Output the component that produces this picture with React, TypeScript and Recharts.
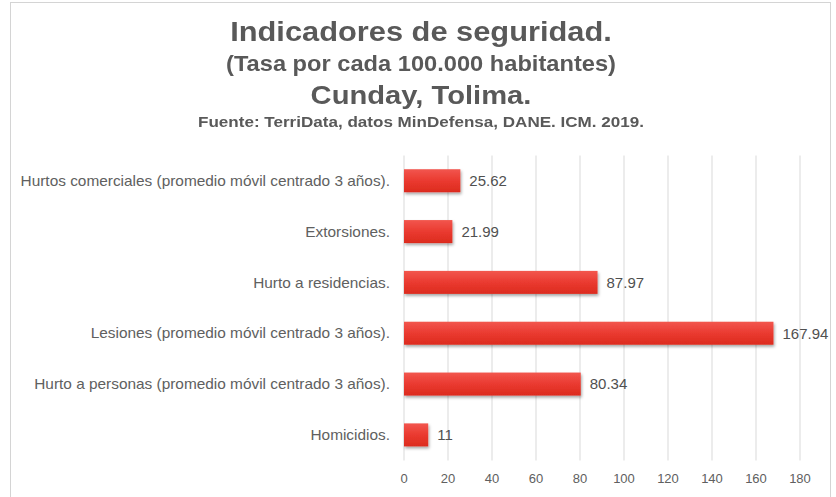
import React from "react";
import { BarChart, Bar, XAxis, YAxis, CartesianGrid, LabelList } from "recharts";

const categories = [
  "Hurtos comerciales (promedio móvil centrado 3 años).",
  "Extorsiones.",
  "Hurto a residencias.",
  "Lesiones (promedio móvil centrado 3 años).",
  "Hurto a personas (promedio móvil centrado 3 años).",
  "Homicidios.",
];
const values = [25.62, 21.99, 87.97, 167.94, 80.34, 11];
const xTicks = [0, 20, 40, 60, 80, 100, 120, 140, 160, 180];

const titleLines = [
  { text: "Indicadores de seguridad.", size: 28, baseline: 41.5 },
  { text: "(Tasa por cada 100.000 habitantes)", size: 21.5, baseline: 72.5 },
  { text: "Cunday, Tolima.", size: 26.5, baseline: 104.5 },
  { text: "Fuente: TerriData, datos MinDefensa, DANE. ICM. 2019.", size: 15.5, baseline: 127.5 },
];

const data = categories.map((c, i) => ({ name: c, value: values[i] }));

const FONT = "'Liberation Sans', Arial, sans-serif";

const YTick = (props: any) => {
  const { x, y, payload } = props;
  return (
    <g transform={`translate(${x},${y}) scale(1.1,1)`}>
      <text x={0} y={0} dy="0.355em" textAnchor="end" fontSize={14} fill="#606060" fontFamily={FONT}>
        {payload.value}
      </text>
    </g>
  );
};

const BarShape = (props: any) => {
  const { x, y, width, height } = props;
  return <rect x={x} y={y} width={width} height={height} fill="url(#barGrad)" filter="url(#barShadow)" />;
};

export default function App() {
  return (
    <div style={{ fontFamily: FONT }}>
      <svg width={0} height={0} style={{ position: "absolute" }}>
        <defs>
          <linearGradient id="barGrad" x1="0" y1="0" x2="0" y2="1">
            <stop offset="0%" stopColor="#F2564E" />
            <stop offset="50%" stopColor="#EA3A30" />
            <stop offset="100%" stopColor="#DC2B1E" />
          </linearGradient>
          <filter id="barShadow" x="-10%" y="-30%" width="130%" height="180%">
            <feDropShadow dx="1" dy="2" stdDeviation="1.5" floodColor="#000" floodOpacity="0.35" />
          </filter>
        </defs>
      </svg>
      <div
        style={{
          position: "absolute",
          left: 10,
          top: 2,
          width: 821,
          height: 505,
          border: "1px solid #d4d4d4",
          boxSizing: "border-box",
          background: "#fff",
        }}
      />
      {titleLines.map((t, i) => (
        <div
          key={i}
          style={{
            position: "absolute",
            left: 0,
            width: 842,
            top: t.baseline - 0.8465 * t.size,
            lineHeight: `${t.size}px`,
            fontSize: t.size,
            fontWeight: "bold",
            color: "#595959",
            textAlign: "center",
            whiteSpace: "nowrap",
            transform: "scaleX(1.1)",
          }}
        >
          {t.text}
        </div>
      ))}
      <div style={{ position: "absolute", left: 11, top: 3 }}>
        <BarChart
          width={819}
          height={498}
          data={data}
          layout="vertical"
          margin={{ top: 152.5, right: 30, left: 0, bottom: 10.5 }}
          barCategoryGap="27%"
        >
          <CartesianGrid horizontal={false} vertical={true} stroke="#d9d9d9" />
          <XAxis
            type="number"
            domain={[0, 180]}
            ticks={xTicks}
            axisLine={false}
            tickLine={false}
            tickSize={0}
            tickMargin={13}
            height={30}
            tick={{ fontSize: 13, fill: "#606060", fontFamily: FONT }}
            interval={0}
          />
          <YAxis
            type="category"
            dataKey="name"
            width={393}
            axisLine={false}
            tickLine={false}
            tickSize={0}
            tickMargin={14}
            tick={<YTick />}
            interval={0}
          />
          <Bar dataKey="value" isAnimationActive={false} shape={<BarShape />}>
            <LabelList dataKey="value" position="right" offset={9} fill="#505050" fontSize={15} fontFamily={FONT} />
          </Bar>
        </BarChart>
      </div>
    </div>
  );
}
